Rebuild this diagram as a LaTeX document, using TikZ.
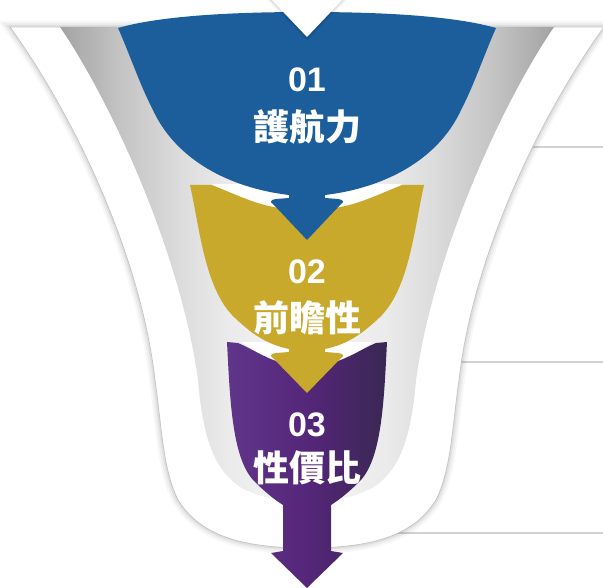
\documentclass[tikz,border=0pt]{standalone}
\usepackage{fontspec}
\setmainfont{Liberation Sans}
\newfontfamily\cjk{Noto Sans CJK TC}
\usepackage{tikz}

\definecolor{stageblue}{HTML}{1B5E9B}
\definecolor{stagegold}{HTML}{C9A92B}
\definecolor{purpleA}{HTML}{60368A}
\definecolor{purpleB}{HTML}{55267A}
\definecolor{purpleC}{HTML}{392752}

\pgfdeclarehorizontalshading{cupshade}{100bp}{color(0bp)=(gray!72); color(25bp)=(gray!72); color(31bp)=(gray!47); color(37bp)=(gray!28); color(42bp)=(gray!16); color(50bp)=(gray!6); color(58bp)=(gray!16); color(63bp)=(gray!28); color(69bp)=(gray!47); color(75bp)=(gray!72); color(100bp)=(gray!72)}

% funnel outlines
\newcommand{\outercup}{(10,27) -- (604,27) .. controls (544,110) and (474,250) .. (459,380) .. controls (452,430) and (451,470) .. (436,500) .. controls (414,535) and (374,548) .. (307,548) .. controls (240,548) and (200,535) .. (178,500) .. controls (163,470) and (162,430) .. (155,380) .. controls (140,250) and (70,110) .. (10,27) -- cycle}
\newcommand{\innercup}{(60,27) -- (554,27) .. controls (504,100) and (434,250) .. (416,380) .. controls (411,440) and (399,470) .. (374,487) .. controls (354,498) and (329,502) .. (307,502) .. controls (285,502) and (260,498) .. (240,487) .. controls (215,470) and (203,440) .. (198,380) .. controls (180,250) and (110,100) .. (60,27) -- cycle}
% stage shapes
\newcommand{\bluecup}{(118,28) .. controls (160,16) and (230,12) .. (307,12) .. controls (384,12) and (454,16) .. (496,28) .. controls (484,55) and (474,85) .. (462,108) .. controls (439,160) and (384,188) .. (325,195) -- (325,198) -- (338,199) .. controls (344,199.5) and (344,203) .. (341,204) -- (307,240) -- (273,204) .. controls (270,203) and (270,199.5) .. (276,199) -- (289,198) -- (289,195) .. controls (230,188) and (175,160) .. (152,108) .. controls (140,85) and (130,55) .. (118,28) -- cycle}
\newcommand{\goldcup}{(190,185) -- (212,185) .. controls (232,193) and (255,204) .. (274,207) .. controls (288,210) and (298,211) .. (307,211) .. controls (316,211) and (326,210) .. (340,207) .. controls (359,204) and (382,193) .. (402,185) -- (424,185) .. controls (414,230) and (409,290) .. (379,318) .. controls (359,337) and (344,345) .. (325,349) -- (325,352) -- (338,353) .. controls (344,353.5) and (344,357) .. (341,358) -- (307,393) -- (273,358) .. controls (270,357) and (270,353.5) .. (276,353) -- (289,352) -- (289,349) .. controls (270,345) and (255,337) .. (235,318) .. controls (205,290) and (200,230) .. (190,185) -- cycle}
\newcommand{\purplecup}{(227,342) -- (238,343) .. controls (250,348) and (262,356) .. (276,361) .. controls (288,364) and (298,365) .. (307,365) .. controls (316,365) and (326,364) .. (338,361) .. controls (352,356) and (364,348) .. (376,343) -- (387,342) .. controls (384,400) and (382,460) .. (359,482) .. controls (349,492) and (339,500) .. (331,505) -- (331,551) -- (343,553) -- (307,588) -- (271,553) -- (283,551) -- (283,505) .. controls (275,500) and (265,492) .. (255,482) .. controls (232,460) and (230,400) .. (227,342) -- cycle}

\begin{document}
\begin{tikzpicture}[x=1pt, y=-1pt]
\tikzstyle{num} = [text=white, font=\bfseries\fontsize{34}{34}\selectfont, inner sep=0pt]
\tikzstyle{lab} = [text=white, font=\cjk\bfseries\fontsize{36}{36}\selectfont, inner sep=0pt]
\tikzstyle{rule} = [draw=gray!35, line width=1.5pt]
\tikzstyle{gapband} = [white, line width=28pt, line join=round]

\useasboundingbox (0,0) rectangle (603,588);

% lines on the right
\foreach \y/\x in {147/520, 362/440, 533/380}
\draw [rule] (\x,\y) -- (603,\y);

% outer funnel with soft shadow
\foreach \w/\o in {12/0.03, 8/0.04, 4/0.06}
\draw [black, opacity=\o, line width=\w pt] \outercup;
\fill [white] \outercup;
\draw [gray!45, line width=0.8pt] \outercup;
\shade [shading=cupshade] \innercup;

% white gaps between the stages
\begin{scope}
\clip (212,185) rectangle (402,240);
\draw [gapband] \bluecup;
\end{scope}
\begin{scope}
\clip (238,343) rectangle (376,395);
\draw [gapband] \goldcup;
\end{scope}

% stages
\shade [left color=purpleA, right color=purpleC, middle color=purpleB] \purplecup;
\fill [stagegold] \goldcup;
\fill [stageblue] \bluecup;

% white notch at the top
\foreach \w/\o in {6/0.05, 3/0.08}
\draw [black, opacity=\o, line width=\w pt, line join=round] (270,-2) -- (307,37) -- (344,-2);
\fill [white] (270,-2) -- (307,37) -- (344,-2) -- cycle;

% labels
\foreach \n/\t/\yn/\yl in {01/護航力/80/127, 02/前瞻性/272/318, 03/性價比/425/468} {
\node [num] (num\n) at (307,\yn) {\n};
\node [lab] (lab\n) at (307,\yl) {\t};
}
\end{tikzpicture}
\end{document}
